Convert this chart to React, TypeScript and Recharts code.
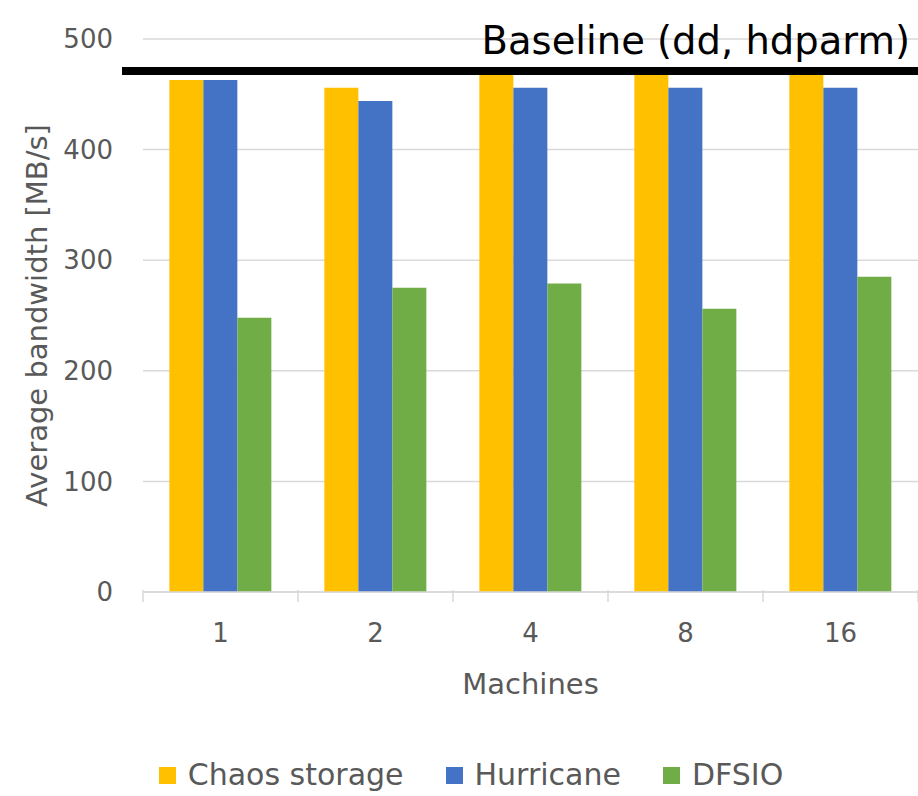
import React from "react";
import {
    BarChart, Bar, XAxis, YAxis, CartesianGrid, Legend, ReferenceLine
} from "recharts";

// Machines on the x axis
const machines = ["1", "2", "4", "8", "16"];
// average bandwidth in MB/s
const chaosStorage = [463, 456, 470, 470, 470];
const hurricane = [463, 444, 456, 456, 456];
const dfsio = [248, 275, 279, 256, 285];
const yTicks = [0, 100, 200, 300, 400, 500];
const baseline = 471;

const data = machines.map((m, i) => ({
    machines: m,
    chaos: chaosStorage[i],
    hurricane: hurricane[i],
    dfsio: dfsio[i],
}));

const FONT = "'DejaVu Sans', sans-serif";
const TEXT = "#595959";
const W = 918;
const H = 796;
const PLOT_LEFT = 143;
const BAND = (W - PLOT_LEFT) / machines.length;

// category label plus the Excel-style tick marks between categories
function MachineTick(props: any) {
    const { x, y, payload, index } = props;
    const left = x - BAND / 2;
    return (
        <g>
            <line x1={left} y1={y - 10} x2={left} y2={y + 2} stroke="#d9d9d9" strokeWidth={1.5} />
            {index === machines.length - 1 && (
                <line x1={left + BAND} y1={y - 10} x2={left + BAND} y2={y + 2} stroke="#d9d9d9" strokeWidth={1.5} />
            )}
            <text x={x} y={y + 42} textAnchor="middle" fill={TEXT} fontSize={26} fontFamily={FONT}>
                {payload.value}
            </text>
        </g>
    );
}

function BaselineLabel(props: any) {
    const { viewBox } = props;
    return (
        <text
            x={viewBox.x + viewBox.width - 8}
            y={viewBox.y - 17}
            textAnchor="end"
            fill="#000"
            fontSize={38.5}
            fontFamily={FONT}
        >
            Baseline (dd, hdparm)
        </text>
    );
}

function BaselineShape(props: any) {
    const { x1, y1, x2, y2 } = props;
    return <line x1={x1 - 21} y1={y1} x2={x2} y2={y2} stroke="#000" strokeWidth={8} />;
}

function YTitle(props: any) {
    const { viewBox } = props;
    const cy = viewBox.y + viewBox.height / 2;
    return (
        <text
            x={37}
            y={cy}
            transform={`rotate(-90, 37, ${cy})`}
            textAnchor="middle"
            dominantBaseline="central"
            fill={TEXT}
            fontSize={29}
            fontFamily={FONT}
        >
            Average bandwidth [MB/s]
        </text>
    );
}

function LegendBox(props: any) {
    const { payload } = props;
    return (
        <div style={{ display: "flex", justifyContent: "center", paddingTop: 36, paddingLeft: 24 }}>
            {payload.map((p: any, i: number) => (
                <div key={i} style={{ display: "flex", alignItems: "center", marginRight: i < payload.length - 1 ? 42 : 0 }}>
                    <span style={{ width: 17, height: 17, background: p.color, marginRight: 12, display: "inline-block" }} />
                    <span style={{ color: TEXT, fontSize: 30, fontFamily: FONT, lineHeight: "34px" }}>{p.value}</span>
                </div>
            ))}
        </div>
    );
}

export default function App() {
    return (
        <div style={{ position: "absolute", left: 0, top: 0, background: "#fff" }}>
            <BarChart
                width={W}
                height={H}
                data={data}
                margin={{ top: 39, right: 0, bottom: 0, left: 0 }}
                barCategoryGap="17%"
                barGap={0}
            >
                <CartesianGrid vertical={false} stroke="#d9d9d9" strokeWidth={1.5} />
                <XAxis
                    dataKey="machines"
                    stroke="#d9d9d9"
                    strokeWidth={1.5}
                    tickLine={false}
                    tick={<MachineTick />}
                    height={130}
                    label={{
                        value: "Machines",
                        position: "insideBottom",
                        offset: 28,
                        fill: TEXT,
                        fontSize: 29,
                        fontFamily: FONT,
                    }}
                />
                <YAxis
                    width={PLOT_LEFT}
                    domain={[0, 500]}
                    ticks={yTicks}
                    axisLine={false}
                    tickLine={false}
                    tickSize={0}
                    tickMargin={30}
                    tick={{ fill: TEXT, fontSize: 26, fontFamily: FONT }}
                    label={<YTitle />}
                />
                <Legend
                    verticalAlign="bottom"
                    height={74}
                    itemSorter={null}
                    content={<LegendBox />}
                />
                <Bar dataKey="chaos" name="Chaos storage" fill="#FFC000" isAnimationActive={false} />
                <Bar dataKey="hurricane" name="Hurricane" fill="#4472C4" isAnimationActive={false} />
                <Bar dataKey="dfsio" name="DFSIO" fill="#70AD47" isAnimationActive={false} />
                <ReferenceLine
                    y={baseline}
                    shape={<BaselineShape />}
                    label={<BaselineLabel />}
                />
            </BarChart>
        </div>
    );
}
